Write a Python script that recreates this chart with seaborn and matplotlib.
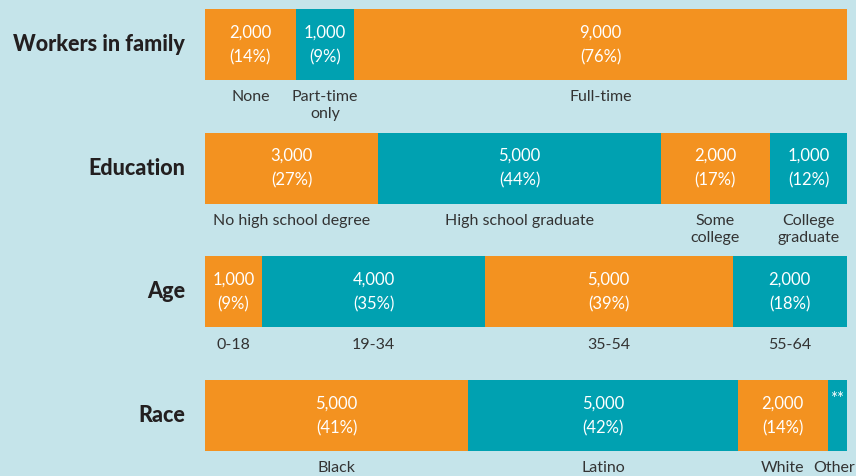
import numpy as np
import pandas as pd
import matplotlib
matplotlib.use('Agg')
import matplotlib.pyplot as plt
import seaborn as sns

# Data
rows = ['Workers in family', 'Education', 'Age', 'Race']

workers_labels = ['None', 'Part-time\nonly', 'Full-time']
workers_counts = [2000, 1000, 9000]
workers_pct = [14, 9, 76]

education_labels = ['No high school degree', 'High school graduate', 'Some\ncollege', 'College\ngraduate']
education_counts = [3000, 5000, 2000, 1000]
education_pct = [27, 44, 17, 12]

age_labels = ['0-18', '19-34', '35-54', '55-64']
age_counts = [1000, 4000, 5000, 2000]
age_pct = [9, 35, 39, 18]

race_labels = ['Black', 'Latino', 'White', 'Other']
race_counts = [5000, 5000, 2000, None]   # None -> "**" (too small to report)
race_pct = [41, 42, 14, 3]

ORANGE = '#F39220'
TEAL = '#00A1B1'
BG = '#C5E4EA'
seg_colors = [ORANGE, TEAL, ORANGE, TEAL]

groups = [
    (workers_labels, workers_counts, workers_pct),
    (education_labels, education_counts, education_pct),
    (age_labels, age_counts, age_pct),
    (race_labels, race_counts, race_pct),
]

# long table with cumulative extents (widths normalised to 100)
recs = []
for row, (labs, cnts, pcts) in zip(rows, groups):
    w = np.array(pcts, dtype=float)
    w = w / w.sum() * 100
    right = np.cumsum(w)
    left = right - w
    for k in range(len(labs)):
        recs.append({'row': row, 'seg': k, 'label': labs[k], 'count': cnts[k],
                     'pct': pcts[k], 'left': left[k], 'right': right[k]})
df = pd.DataFrame(recs)

sns.set_theme(style='white')
plt.rcParams['font.family'] = ['Lato', 'DejaVu Sans']

fig = plt.figure(figsize=(8.56, 4.76), dpi=100, facecolor=BG)
ax = fig.add_axes([205 / 856, 0, 642 / 856, 1])
ax.set_facecolor(BG)

bar_h = 71 / 123.67
# stacked bars: draw cumulative extents, longest first
for k in reversed(range(4)):
    sub = df[df['seg'] == k]
    sns.barplot(data=sub, x='right', y='row', order=rows, orient='h',
                color=seg_colors[k], saturation=1, width=bar_h,
                errorbar=None, linewidth=0, ax=ax)

ax.set_xlim(0, 100)
ax.set_ylim(3.489, -0.36)
ax.set_xlabel('')
ax.set_ylabel('')
ax.set_xticks([])
ax.set_yticks([])
for s in ax.spines.values():
    s.set_visible(False)

for _, r in df.iterrows():
    yi = rows.index(r['row'])
    xc = (r['left'] + r['right']) / 2
    if pd.isna(r['count']):
        ax.text(xc, yi - 0.13, '**', ha='center', va='center', color='white', fontsize=12)
    else:
        ax.text(xc, yi - 0.1, f"{int(r['count']):,}", ha='center', va='center',
                color='white', fontsize=12)
        ax.text(xc, yi + 0.1, f"({r['pct']}%)", ha='center', va='center',
                color='white', fontsize=12)
    # keep the last label inside the right edge
    if r['right'] > 99.9 and r['right'] - r['left'] < 6:
        ax.text(101.3, yi + 0.37, r['label'], ha='right', va='top', color='#333333',
                fontsize=11.5, linespacing=1.25)
    else:
        ax.text(xc, yi + 0.37, r['label'], ha='center', va='top', color='#333333',
                fontsize=11.5, linespacing=1.25)

for yi, row in enumerate(rows):
    ax.text(-3.1, yi, row, ha='right', va='center', color='#231F20',
            fontsize=15.5, fontweight='black')

fig.savefig('out.png', dpi=100, facecolor=BG)
